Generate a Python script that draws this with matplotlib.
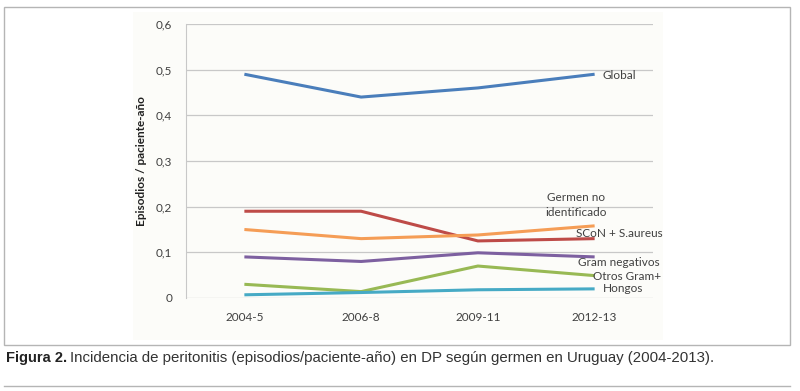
import matplotlib

matplotlib.use("Agg")
import matplotlib.pyplot as plt
from matplotlib.patches import Rectangle
from matplotlib.lines import Line2D

periods = ["2004-5", "2006-8", "2009-11", "2012-13"]
global_rate = [0.49, 0.44, 0.46, 0.49]
germen_no_id = [0.19, 0.19, 0.125, 0.13]
scon_saureus = [0.15, 0.13, 0.138, 0.158]
gram_neg = [0.09, 0.08, 0.099, 0.09]
otros_gram_pos = [0.03, 0.014, 0.07, 0.049]
hongos = [0.007, 0.012, 0.018, 0.02]

series = [
    (global_rate, "#4a7ebb"),
    (germen_no_id, "#be4b48"),
    (scon_saureus, "#f59d56"),
    (gram_neg, "#7d60a0"),
    (otros_gram_pos, "#98b954"),
    (hongos, "#46aac5"),
]

# etiquetas junto a las líneas (texto, x, y, alineación)
labels = [
    ("Global", 3.07, 0.488, "left"),
    ("Germen no", 2.84, 0.221, "center"),
    ("identificado", 2.84, 0.188, "center"),
    ("SCoN + S.aureus", 2.84, 0.142, "left"),
    ("Gram negativos", 2.86, 0.077, "left"),
    ("Otros Gram+", 2.99, 0.046, "left"),
    ("Hongos", 3.07, 0.020, "left"),
]

plt.rcParams["font.family"] = ["Lato", "DejaVu Sans"]

fig = plt.figure(figsize=(8.0, 3.91), dpi=100)
W, H = 800, 391

# marco exterior y fondo del gráfico
fig.patches.append(Rectangle((4 / W, 1 - 345 / H), 786 / W, 338 / H,
                             transform=fig.transFigure, fill=False,
                             edgecolor="#b5b5b5", lw=1.0, zorder=-2))
fig.patches.append(Rectangle((133 / W, 1 - 340 / H), 530 / W, 328 / H,
                             transform=fig.transFigure, facecolor="#fcfcf9",
                             edgecolor="none", zorder=-1))
fig.lines.append(Line2D([4 / W, 790 / W], [1 - 386 / H, 1 - 386 / H],
                        transform=fig.transFigure, color="#b5b5b5", lw=1.0))

ax = fig.add_axes([186 / W, 1 - 298 / H, 467 / W, 274 / H], zorder=1)
ax.patch.set_visible(False)
x = range(len(periods))
for vals, col in series:
    ax.plot(x, vals, color=col, lw=2.2, solid_capstyle="butt", clip_on=False)

for txt, lx, ly, ha in labels:
    ax.text(lx, ly, txt, ha=ha, va="center", fontsize=8.5, color="#404040")

ax.set_xlim(-0.5, 3.5)
ax.set_ylim(0, 0.6)
ax.set_yticks([0, 0.1, 0.2, 0.3, 0.4, 0.5, 0.6])
ax.set_yticklabels(["0", "0,1", "0,2", "0,3", "0,4", "0,5", "0,6"])
ax.set_xticks(list(x))
ax.set_xticklabels(periods)
ax.grid(axis="y", color="#c8c8c8", lw=0.9)
ax.set_axisbelow(True)
for s in ["top", "right", "bottom"]:
    ax.spines[s].set_visible(False)
ax.spines["left"].set_color("#c8c8c8")
ax.tick_params(length=0, labelsize=8.5, labelcolor="#404040")
ax.tick_params(axis="y", pad=10)
ax.tick_params(axis="x", pad=10)
ax.set_ylabel("Episodios / paciente-año", fontsize=8.5, fontweight="bold",
              color="#202020", labelpad=6)

fig.text(6 / W, 1 - 358 / H, "Figura 2.", fontsize=10.5, fontweight="bold",
         family=["Liberation Sans", "DejaVu Sans"], va="center",
         color="#222222")
fig.text(70 / W, 1 - 358 / H,
         "Incidencia de peritonitis (episodios/paciente-año) en DP según germen en Uruguay (2004-2013).",
         fontsize=10.8, family=["Liberation Sans", "DejaVu Sans"], va="center",
         color="#333333")

fig.savefig("out.png", dpi=100)
